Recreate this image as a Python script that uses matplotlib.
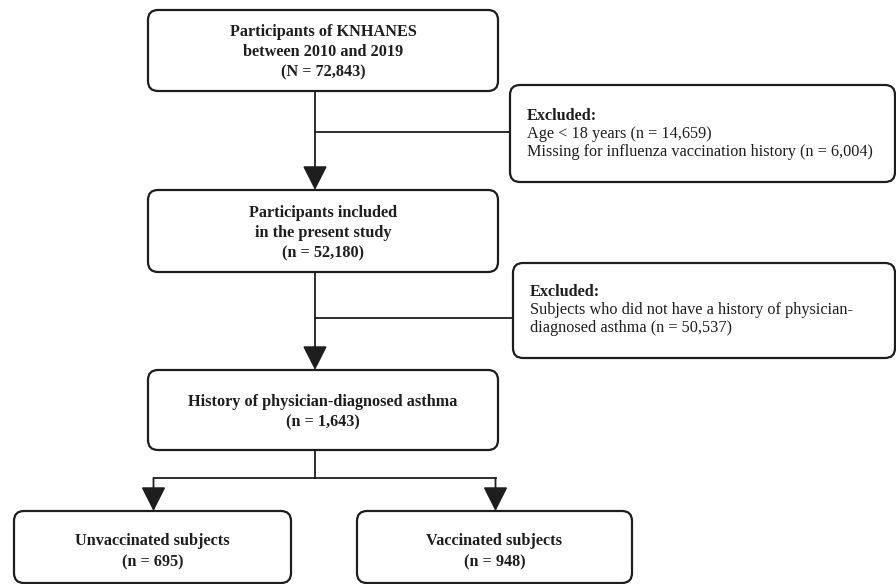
import matplotlib.pyplot as plt
from matplotlib.patches import FancyBboxPatch

# flow chart content
main_titles = ['Participants of KNHANES\nbetween 2010 and 2019',
               'Participants included\nin the present study',
               'History of physician-diagnosed asthma']
main_counts = ['(N = 72,843)', '(n = 52,180)', '(n = 1,643)']
excl_items = [['Age < 18 years (n = 14,659)',
               'Missing for influenza vaccination history (n = 6,004)'],
              ['Subjects who did not have a history of physician-',
               'diagnosed asthma (n = 50,537)']]
group_names = ['Unvaccinated subjects', 'Vaccinated subjects']
group_counts = [695, 948]

# layout in pixels (x0, y0, x1, y1), y going down
main_boxes = [(148, 10, 498, 91), (148, 190, 498, 272), (148, 370, 498, 450)]
excl_boxes = [(510, 85, 895, 182), (513, 263, 895, 358)]
group_boxes = [(14, 511, 291, 583), (357, 511, 632, 583)]
stem_x = 315
branch_y = [132, 318]
split_y = 478

plt.rcParams['font.family'] = ['Liberation Serif', 'DejaVu Serif']
ink = '#1e1e1e'
fs = 11.7

fig = plt.figure(figsize=(8.96, 5.84), dpi=100)
ax = fig.add_axes([0, 0, 1, 1])
ax.set_xlim(0, 896)
ax.set_ylim(584, 0)
ax.axis('off')


def box(b):
    x0, y0, x1, y1 = b
    ax.add_patch(FancyBboxPatch((x0, y0), x1 - x0, y1 - y0,
                                boxstyle='round,pad=0,rounding_size=10',
                                fc='white', ec=ink, lw=1.6, zorder=2))


def arrow(x, y0, y1):
    ax.annotate('', xy=(x, y1), xytext=(x, y0),
                arrowprops=dict(arrowstyle='-|>,head_length=0.75,head_width=0.38',
                                mutation_scale=20, lw=1.3, color=ink,
                                shrinkA=0, shrinkB=0), zorder=3)


def lines(x, ys, texts, ha, bold):
    for y, t in zip(ys, texts):
        ax.text(x, y, t, ha=ha, va='center', fontsize=fs, color=ink,
                fontweight='bold' if bold else 'normal')


for b, title, cnt in zip(main_boxes, main_titles, main_counts):
    box(b)
    cx = (b[0] + b[2]) / 2
    cy = (b[1] + b[3]) / 2 + 2
    rows = title.split('\n') + [cnt]
    n = len(rows)
    ys = [cy + (k - (n - 1) / 2) * 20 for k in range(n)]
    lines(cx, ys, rows, 'center', True)

for b, items in zip(excl_boxes, excl_items):
    box(b)
    cy = (b[1] + b[3]) / 2
    lines(b[0] + 17, [cy - 18], ['Excluded:'], 'left', True)
    lines(b[0] + 17, [cy, cy + 18], items, 'left', False)

for b, name, n in zip(group_boxes, group_names, group_counts):
    box(b)
    cx = (b[0] + b[2]) / 2
    lines(cx, [541, 562], [name, '(n = %d)' % n], 'center', True)

# stems and side branches
for i in range(2):
    top = main_boxes[i][3]
    bottom = main_boxes[i + 1][1]
    arrow(stem_x, top, bottom)
    ax.plot([stem_x, excl_boxes[i][0]], [branch_y[i], branch_y[i]],
            color=ink, lw=1.3, zorder=1)

# split to the two groups
ax.plot([stem_x, stem_x], [main_boxes[2][3], split_y], color=ink, lw=1.3)
gx = [(b[0] + b[2]) / 2 + 1 for b in group_boxes]
ax.plot([gx[0], gx[1]], [split_y, split_y], color=ink, lw=1.3)
for x in gx:
    arrow(x, split_y, group_boxes[0][1])

fig.savefig('out.png', dpi=100)
